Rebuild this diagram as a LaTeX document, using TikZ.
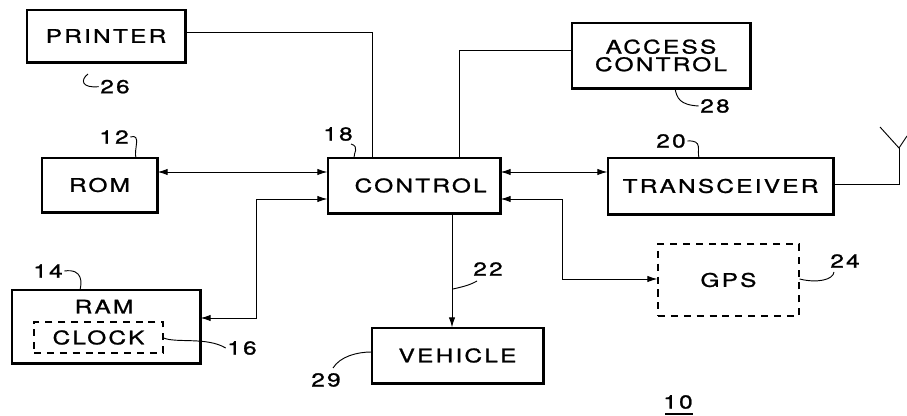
\documentclass[tikz,border=0pt]{standalone}
\usepackage{fontspec}
\setmainfont{TeX Gyre Heros}[LetterSpace=12,FakeStretch=1.3,FakeBold=1.2]
\usetikzlibrary{arrows.meta}

\begin{document}
\begin{tikzpicture}[line width=0.8pt,>={Latex[length=3mm,width=1.9mm]},
  box/.style={draw,line width=1pt,inner sep=0pt,font=\fontsize{16}{18}\selectfont},
  dbox/.style={box,dashed,dash pattern=on 6pt off 5pt},
  num/.style={inner sep=1pt,font=\fontsize{16}{18}\selectfont}]
\useasboundingbox (0,0) rectangle (27.21,-12.48);
% ---------- 方框 ----------
\node[box,minimum width=4.74cm,minimum height=1.56cm] (printer) at (3.18,-1.08) {PRINTER};
\node[box,minimum width=3.45cm,minimum height=1.62cm] (rom) at (2.985,-5.55) {ROM};
\node[box,minimum width=5.16cm,minimum height=1.65cm] (ctrl) at (12.42,-5.565) {\hspace*{0.4cm}CONTROL};
\node[box,minimum width=5.34cm,minimum height=1.95cm,align=center] (access) at (19.83,-1.665)
  {ACCESS\\[-3pt]CONTROL};
\node[box,minimum width=6.75cm,minimum height=1.68cm] (trx) at (21.615,-5.58) {TRANSCEIVER};
\node[dbox,minimum width=4.23cm,minimum height=2.16cm] (gps) at (21.855,-8.4) {GPS};
\node[box,minimum width=5.13cm,minimum height=1.65cm] (vehicle) at (13.725,-10.665) {VEHICLE};
\node[box,minimum width=5.64cm,minimum height=2.19cm] (ram) at (3.18,-9.795) {};
\node[num] (ramtxt) at (3.12,-9.2) {RAM};
\node[dbox,minimum width=3.87cm,minimum height=0.93cm] (clock) at (2.955,-10.125) {CLOCK};
% 右边和下边加粗
\foreach \n in {printer,rom,ctrl,access,trx,ram,vehicle}
  \draw[line width=2.2pt] (\n.north east) -- (\n.south east) -- (\n.south west);
% ---------- 连线 ----------
\draw (printer.east |- 0,-0.96) -| (ctrl.north -| 11.16,0);
\draw (access.west |- 0,-1.5) -| (ctrl.north -| 13.77,0);
\draw[<->] (rom.east |- 0,-5.16) -- (ctrl.west |- 0,-5.16);
\draw[<->] (ctrl.west |- 0,-5.97) -| (7.68,-9.54) -- (ram.east |- 0,-9.54);
\draw[<->] (ctrl.east |- 0,-5.16) -- (trx.west |- 0,-5.16);
\draw[<->] (ctrl.east |- 0,-5.97) -| (16.86,-8.37) -- (gps.west |- 0,-8.37);
\draw[->] (ctrl.south -| 13.56,0) -- (vehicle.north -| 13.56,0);
% 天线
\draw (trx.east |- 0,-5.52) -| (26.97,-4.44) coordinate (ant);
\draw (26.4,-3.81) -- (ant) -- (27.21,-4.08);
% ---------- 编号 ----------
\node[num] (l26) at (3.45,-2.6) {26};
\draw (2.64,-2.22) .. controls (2.4,-2.4) and (2.45,-2.65) .. (l26.west);
\node[num] (l12) at (3.42,-4.11) {12};
\draw (l12.east) .. controls (4.26,-4.0) and (4.0,-4.5) .. (4.08,-4.74);
\node[num] (l18) at (10.14,-4.02) {18};
\draw (10.53,-4.32) .. controls (10.8,-4.4) and (10.6,-4.6) .. (10.62,-4.74);
\node[num] (l28) at (21.45,-3.18) {28};
\draw (20.25,-2.64) .. controls (20.3,-2.95) and (20.4,-3.15) .. (l28.west);
\node[num] (l20) at (20.13,-4.23) {20};
\draw (l20.east) .. controls (21.1,-4.2) and (20.9,-4.5) .. (20.97,-4.74);
\node[num] (l14) at (1.44,-8.13) {14};
\draw (l14.east) .. controls (2.5,-8.05) and (2.45,-8.5) .. (2.4,-8.7);
\node[num] (l16) at (7.26,-10.44) {16};
\draw (clock.east |- 0,-10.14) .. controls (5.3,-10.3) and (6.2,-10.1) .. (l16.west);
\node[num] (l22) at (14.64,-8.07) {22};
\draw (13.59,-8.67) .. controls (13.9,-8.6) and (14.1,-8.55) .. (14.31,-8.43);
\node[num] (l24) at (25.35,-7.83) {24};
\draw (gps.east |- 0,-8.37) .. controls (24.5,-8.5) and (25.0,-8.4) .. (25.02,-8.16);
\node[num] (l29) at (9.78,-11.4) {29};
\draw (9.99,-11.04) .. controls (10.2,-10.7) and (10.7,-10.56) .. (vehicle.west |- 0,-10.56);
\node[num] (l10) at (20.34,-12.06) {10};
\draw[line width=1.2pt] (19.95,-12.42) -- (20.79,-12.42);
\end{tikzpicture}
\end{document}
